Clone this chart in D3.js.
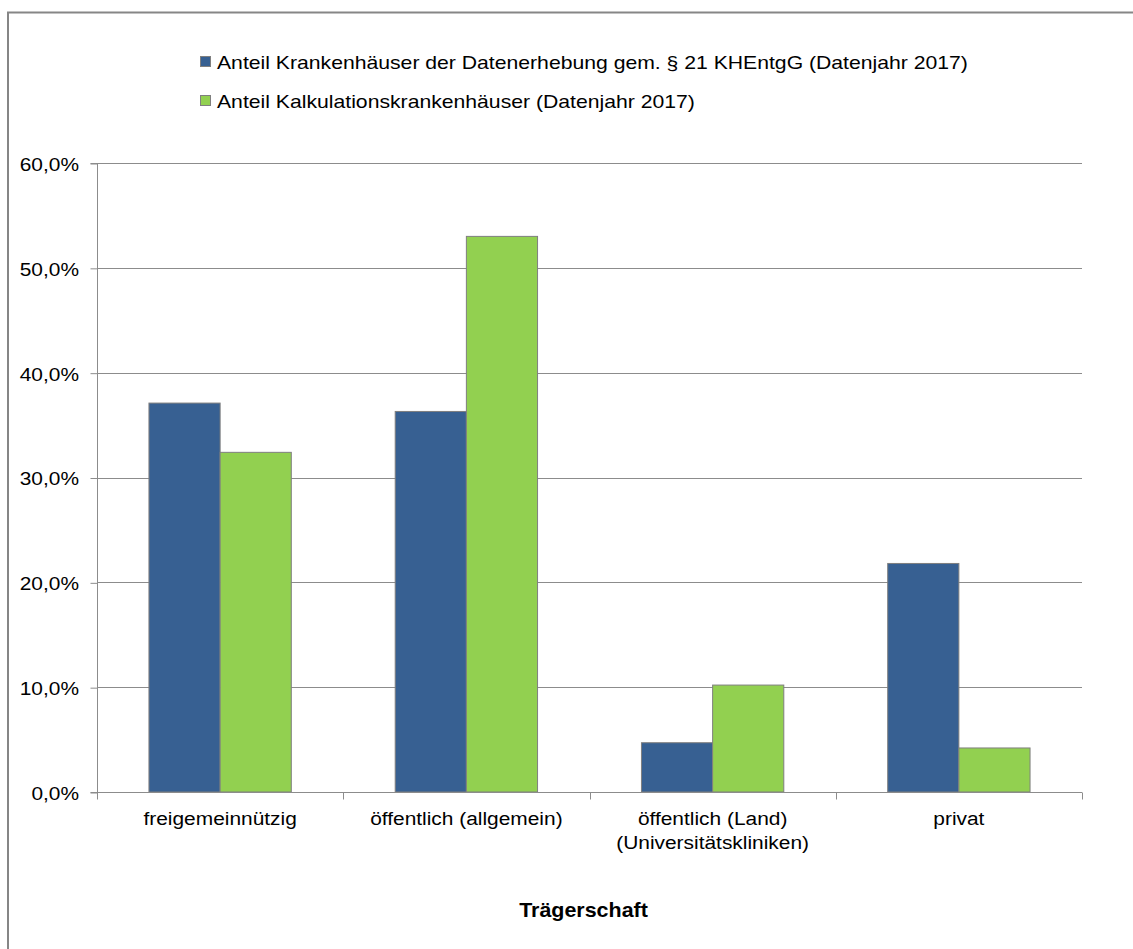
<!DOCTYPE html>
<html><head><meta charset="utf-8">
<script src="https://cdn.jsdelivr.net/npm/d3@7"></script>
<style>body{margin:0;background:#fff}svg{display:block}text{font-family:"Liberation Sans",Arial,sans-serif;fill:#000}</style>
</head><body>
<svg id="c" width="1133" height="949"></svg>
<script>
const categories = ["freigemeinnützig", "öffentlich (allgemein)", "öffentlich (Land)\n(Universitätskliniken)", "privat"];
const seriesNames = ["Anteil Krankenhäuser der Datenerhebung gem. § 21 KHEntgG (Datenjahr 2017)", "Anteil Kalkulationskrankenhäuser (Datenjahr 2017)"];
const valuesDatenerhebung = [37.1, 36.3, 4.7, 21.8];
const valuesKalkulation = [32.4, 53.0, 10.2, 4.2];
const yTicks = [0, 10, 20, 30, 40, 50, 60];
const axisTitle = "Trägerschaft";
const colors = ["#376092", "#92d050"];

const svg = d3.select("#c");
const pLeft = 97, pRight = 1082, pTop = 163, pBottom = 792;
const FS = 19, SX = 1.1, SXL = 1.115;

// outer frame
svg.append("path").attr("d", `M8,949 L8,12.5 L1133,12.5`).attr("fill","none").attr("stroke","#868686").attr("stroke-width",2);

const x = d3.scaleBand().domain(categories).range([pLeft, pRight]).paddingInner(0).paddingOuter(0);
const xs = d3.scaleBand().domain([0,1]).range([0, x.bandwidth()]).paddingInner(0).paddingOuter(0.73);
const y = d3.scaleLinear().domain([0, 60]).range([pBottom, pTop]);

// gridlines
svg.append("g").selectAll("line").data(yTicks.filter(d=>d>0)).join("line")
  .attr("x1", pLeft).attr("x2", pRight).attr("y1", d=>Math.round(y(d))+0.5).attr("y2", d=>Math.round(y(d))+0.5)
  .attr("stroke", "#8c8c8c").attr("stroke-width", 1);

// y axis
const yAxis = d3.axisLeft(y).tickValues(yTicks).tickSize(7).tickPadding(11)
  .tickFormat(d => d3.format(".1f")(d).replace(".", ",") + "%");
const gy = svg.append("g").attr("transform", `translate(${pLeft+0.5},0.5)`).call(yAxis);
gy.select(".domain").attr("stroke", "#8c8c8c").attr("d", `M-7,${pTop}H0V${pBottom}H-7`);
gy.selectAll(".tick line").attr("stroke", "#8c8c8c");
gy.selectAll(".tick text").attr("font-size", FS).attr("font-family", "Liberation Sans").attr("fill","#000")
  .attr("x", -18.5 / SX).attr("dy", "0.36em").attr("transform", `scale(${SX},1)`);

// bars
const series = [valuesDatenerhebung, valuesKalkulation];
series.forEach((vals, si) => {
  svg.append("g").selectAll("rect").data(categories).join("rect")
    .attr("x", (c) => x(c) + xs(si))
    .attr("y", (c, i) => y(vals[i]))
    .attr("width", xs.bandwidth())
    .attr("height", (c, i) => pBottom - y(vals[i]))
    .attr("fill", colors[si]).attr("stroke", "#7f7f7f").attr("stroke-width", 1);
});

// x axis
const xAxis = d3.axisBottom(x).tickSize(0).tickFormat("");
const gx = svg.append("g").attr("transform", `translate(0,${pBottom+0.5})`).call(xAxis);
gx.select(".domain").attr("stroke", "#8c8c8c").attr("d", `M${pLeft},0H${pRight}`);
const bounds = [pLeft, ...categories.map(c => x(c) + x.bandwidth())];
gx.append("g").selectAll("line").data(bounds).join("line")
  .attr("x1", d=>Math.round(d)+0.5).attr("x2", d=>Math.round(d)+0.5).attr("y1", 0).attr("y2", 7).attr("stroke", "#8c8c8c");

// category labels
categories.forEach(c => {
  const lines = c.split("\n");
  const g = svg.append("g").attr("transform", `translate(${x(c) + x.bandwidth()/2},825) scale(${SX},1)`);
  const t = g.append("text").attr("text-anchor", "middle").attr("font-size", FS);
  lines.forEach((l, i) => t.append("tspan").attr("x", 0).attr("dy", i ? 24 : 0).text(l));
});

// axis title
svg.append("g").attr("transform", `translate(${(pLeft+pRight)/2 - 6},917) scale(${SX},1)`)
  .append("text").attr("text-anchor","middle")
  .attr("font-size", 19.5).attr("font-weight", "bold").text(axisTitle);

// legend
const lg = svg.append("g");
seriesNames.forEach((n, i) => {
  const yy = 62 + i*39;
  lg.append("rect").attr("x", 200.5).attr("y", yy-5.5).attr("width", 10).attr("height", 10)
    .attr("fill", colors[i]).attr("stroke", "#7f7f7f").attr("stroke-width", 1);
  lg.append("g").attr("transform", `translate(217,${yy}) scale(${SXL},1)`)
    .append("text").attr("dy", "0.36em").attr("font-size", FS).text(n);
});
</script>
</body></html>
